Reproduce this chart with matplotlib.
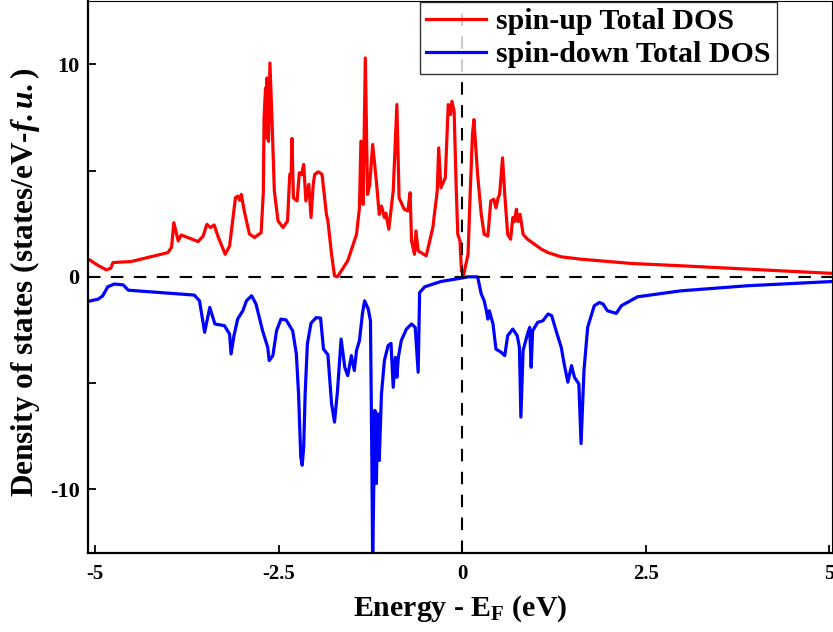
import matplotlib
matplotlib.use("Agg")
import matplotlib.pyplot as plt
import numpy as np

plt.rcParams['font.family'] = 'Liberation Serif'
plt.rcParams['font.weight'] = 'bold'
plt.rcParams['axes.labelweight'] = 'bold'
plt.rcParams['axes.unicode_minus'] = False
plt.rcParams['mathtext.fontset'] = 'custom'
plt.rcParams['mathtext.rm'] = 'Liberation Serif:bold'
plt.rcParams['mathtext.bf'] = 'Liberation Serif:bold'
plt.rcParams['mathtext.it'] = 'Liberation Serif:italic:bold'

# spin-up total DOS (energy, states)
upE = [-5.10, -4.97, -4.85, -4.79, -4.76, -4.51, -4.01, -3.96, -3.93, -3.87, -3.83, -3.60, -3.53,
       -3.48, -3.43, -3.38, -3.33, -3.23, -3.17, -3.09, -3.06, -3.03, -3.01, -2.97, -2.90, -2.83,
       -2.74, -2.71, -2.70, -2.68, -2.67, -2.66, -2.64, -2.62, -2.59, -2.56, -2.51, -2.44, -2.38,
       -2.35, -2.33, -2.32, -2.30, -2.25, -2.22, -2.19, -2.16, -2.13, -2.09, -2.06, -2.03, -2.01,
       -1.96, -1.91, -1.85, -1.83, -1.78, -1.74, -1.70, -1.56, -1.44, -1.40, -1.38, -1.35, -1.32,
       -1.29, -1.26, -1.22, -1.17, -1.13, -1.10, -1.06, -1.04, -1.00, -0.94, -0.89, -0.86, -0.79,
       -0.74, -0.71, -0.69, -0.65, -0.63, -0.60, -0.49, -0.40, -0.34, -0.32, -0.29, -0.23, -0.19,
       -0.16, -0.14, -0.11, -0.08, -0.06, -0.03, -0.01, 0.02, 0.08, 0.11, 0.14, 0.16, 0.18, 0.21,
       0.26, 0.30, 0.35, 0.39, 0.43, 0.46, 0.49, 0.51, 0.55, 0.58, 0.62, 0.66, 0.69, 0.71, 0.74,
       0.76, 0.79, 0.83, 0.89, 1.08, 1.17, 1.35, 1.62, 2.30, 2.98, 3.89, 5.05]
upDOS = [0.85, 0.55, 0.33, 0.40, 0.67, 0.72, 1.14, 1.40, 2.55, 1.69, 1.97, 1.66, 1.92,
         2.47, 2.32, 2.44, 1.92, 1.06, 1.45, 3.72, 3.80, 3.60, 3.88, 3.10, 2.02, 1.85,
         2.08, 4.00, 7.48, 8.89, 6.54, 9.36, 6.38, 10.06, 7.18, 4.04, 2.63, 2.32, 2.63,
         4.82, 4.90, 6.51, 3.72, 3.57, 4.90, 4.80, 5.29, 3.57, 4.35, 2.79, 4.35, 4.82,
         4.94, 4.82, 2.94, 2.63, 1.06, 0.05, 0.00, 0.75, 2.00, 3.25, 6.38, 3.41, 10.30,
         3.88, 4.35, 6.23, 4.51, 2.94, 3.33, 2.79, 3.00, 2.24, 4.04, 8.11, 3.72, 3.18,
         3.10, 3.96, 1.69, 1.06, 2.16, 1.22, 0.99, 2.32, 4.04, 6.07, 4.19, 4.66, 8.11,
         7.64, 8.26, 7.79, 4.04, 2.00, 1.69, 0.28, 0.10, 1.06, 4.04, 6.70, 7.40, 6.38, 4.82,
         2.94, 2.00, 1.92, 3.57, 3.65, 3.25, 3.72, 3.88, 5.60, 3.88, 2.00, 1.77, 2.79, 2.60, 3.18,
         2.60, 2.94, 2.00, 1.77, 1.30, 1.14, 0.94, 0.83, 0.63, 0.52, 0.36, 0.16]

# spin-down total DOS (energy, states)
dnE = [-5.10, -4.96, -4.90, -4.83, -4.74, -4.62, -4.55, -3.65, -3.58, -3.51, -3.44, -3.37, -3.24,
       -3.17, -3.15, -3.11, -3.06, -2.99, -2.94, -2.87, -2.81, -2.72, -2.65, -2.63, -2.58, -2.53,
       -2.47, -2.40, -2.31, -2.26, -2.23, -2.20, -2.18, -2.16, -2.14, -2.11, -2.06, -1.99, -1.93,
       -1.89, -1.83, -1.78, -1.74, -1.70, -1.65, -1.60, -1.56, -1.51, -1.47, -1.44, -1.40, -1.36,
       -1.33, -1.28, -1.25, -1.23, -1.22, -1.19, -1.17, -1.15, -1.13, -1.10, -1.06, -1.01, -0.97,
       -0.94, -0.91, -0.89, -0.87, -0.83, -0.76, -0.69, -0.64, -0.60, -0.58, -0.51, -0.29, -0.01,
       0.08, 0.21, 0.26, 0.30, 0.33, 0.35, 0.37, 0.42, 0.46, 0.53, 0.58, 0.62, 0.69, 0.75, 0.78,
       0.80, 0.83, 0.89, 0.92, 0.94, 0.96, 1.03, 1.10, 1.17, 1.22, 1.28, 1.35, 1.39, 1.44, 1.49,
       1.53, 1.59, 1.62, 1.66, 1.71, 1.80, 1.87, 1.92, 1.98, 2.10, 2.17, 2.39, 2.98, 3.89, 5.05]
dnDOS = [-1.16, -1.05, -0.90, -0.47, -0.34, -0.38, -0.63, -0.86, -1.13, -2.61, -1.44, -2.22, -2.30,
         -2.69, -3.63, -2.77, -1.99, -1.60, -1.13, -0.89, -1.28, -2.54, -3.32, -3.94, -3.71, -2.54,
         -1.99, -2.03, -2.54, -3.63, -5.51, -8.48, -8.87, -8.01, -5.51, -3.16, -2.18, -1.92, -1.94,
         -3.40, -3.67, -5.98, -6.84, -5.40, -2.93, -4.26, -4.65, -3.71, -4.41, -3.47, -3.00, -1.75,
         -1.13, -1.52, -2.07, -8.95, -13.5, -6.29, -9.73, -6.45, -8.64, -5.51, -3.94, -3.24, -3.13,
         -5.20, -3.79, -4.73, -3.79, -3.00, -2.46, -2.22, -2.38, -4.49, -0.74, -0.47, -0.22, -0.06,
         0.00, 0.00, -0.81, -1.13, -1.60, -1.99, -1.60, -2.22, -3.40, -3.55, -3.71, -2.77, -2.46, -2.77, -3.32,
         -6.60, -3.47, -2.69, -2.38, -4.26, -2.54, -2.14, -2.07, -1.75, -1.83, -2.54, -3.32, -4.10, -4.96, -4.18,
         -4.73, -5.04, -7.85, -4.41, -2.38, -1.36, -1.21, -1.28, -1.60, -1.72, -1.36, -0.94, -0.66, -0.42, -0.22]

xTicks = [-5, -2.5, 0, 2.5, 5]
xTickLabels = ['-5', '-2.5', '0', '2.5', '5']
yTicks = [-10, 0, 10]

fig = plt.figure(figsize=(8.33, 6.32), dpi=100)
ax = fig.add_axes([0.1056, 0.125, 0.8932, 0.874])

ax.plot(upE, upDOS, color='#ff0000', lw=2.3, label='spin-up Total DOS')
ax.plot(dnE, dnDOS, color='#0000ff', lw=2.3, label='spin-down Total DOS')
ax.axhline(0, color='black', lw=1.5, dashes=(6, 5))
ax.axvline(0, color='black', lw=1.5, dashes=(6, 5))

ax.set_xlim(-5.1, 5.04)
ax.set_ylim(-13, 13)
ax.set_xticks(xTicks)
ax.set_xticklabels(xTickLabels)
ax.set_yticks(yTicks)
ax.set_yticks([-5, 5], minor=True)
ax.tick_params(which='both', direction='in', length=6, width=1.3)
ax.tick_params(axis='x', labelsize=15, pad=8)
ax.tick_params(axis='y', labelsize=16, pad=6)
for side in ['left', 'bottom']:
    ax.spines[side].set_linewidth(1.6)
for side in ['top', 'right']:
    ax.spines[side].set_linewidth(0.8)

ax.set_xlabel('Energy - E$_{\\mathrm{F}}$ (eV)', fontsize=21.5, fontweight='bold', labelpad=7)
ax.set_ylabel('Density of states (states/eV-$\\mathit{f.u.}$)', fontsize=22.5, fontweight='bold')
ax.yaxis.set_label_coords(-0.062, 0.49)

leg = ax.legend(loc='upper right', bbox_to_anchor=(0.926, 0.997), borderaxespad=0,
                fontsize=21.5, frameon=True, fancybox=False, handlelength=2.0,
                borderpad=0.2, labelspacing=0.2, handletextpad=0.35, handleheight=0.6)
leg.get_frame().set_edgecolor('black')
leg.get_frame().set_linewidth(1.0)

fig.savefig('out.png', dpi=100)
